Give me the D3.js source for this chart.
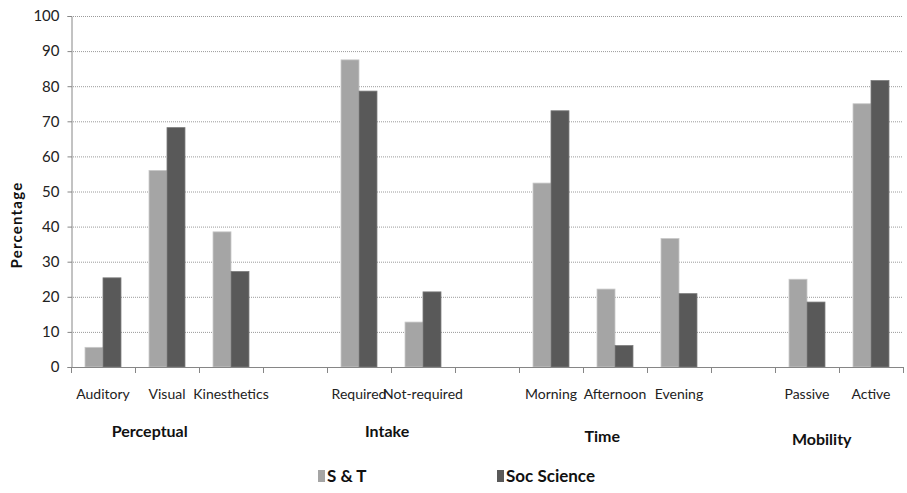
<!DOCTYPE html>
<html>
<head>
<meta charset="utf-8">
<script src="https://cdn.jsdelivr.net/npm/d3@7"></script>
<style>
  html, body { margin: 0; padding: 0; background: #fff; }
  svg { display: block; }
  text { font-family: "Lato", "Liberation Sans", Arial, sans-serif; }
</style>
</head>
<body>
<svg id="chart" width="907" height="493"></svg>
<script>
// Learning-style preferences by stream (percent); null marks a spacer slot between groups
const categories = ["Auditory", "Visual", "Kinesthetics", null, "Required", "Not-required", null,
                    "Morning", "Afternoon", "Evening", null, "Passive", "Active"];
const seriesNames = ["S & T", "Soc Science"];
const sAndT      = [5.6, 56, 38.5, null, 87.5, 12.8, null, 52.4, 22.2, 36.6, null, 25, 75];
const socScience = [25.4, 68.2, 27.2, null, 78.6, 21.4, null, 73, 6.1, 20.9, null, 18.5, 81.6];
const yTicks = [0, 10, 20, 30, 40, 50, 60, 70, 80, 90, 100];
const groupNames = ["Perceptual", "Intake", "Time", "Mobility"];

const colors = ["#a5a5a5", "#595959"];
const strokes = ["#c8c8c8", "#7a7a7a"];

const svg = d3.select("#chart");
const plotLeft = 71, plotRight = 903, plotTop = 16, plotBottom = 367;

const x = d3.scaleBand().domain(d3.range(categories.length)).range([plotLeft, plotRight]).paddingInner(0).paddingOuter(0);
const xInner = d3.scaleBand().domain(d3.range(seriesNames.length)).range([0, x.bandwidth()]).paddingInner(0).paddingOuter(0.78);
const y = d3.scaleLinear().domain([0, 100]).range([plotBottom, plotTop]);

// dotted gridlines
svg.append("g").selectAll("line")
  .data(yTicks.filter(d => d > 0))
  .join("line")
  .attr("x1", plotLeft).attr("x2", plotRight)
  .attr("y1", d => y(d) + 0.5).attr("y2", d => y(d) + 0.5)
  .attr("stroke", "#9a9a9a").attr("stroke-width", 1)
  .attr("stroke-dasharray", "1,1");

// y axis
const yAxis = svg.append("g")
  .attr("transform", `translate(${plotLeft + 0.5},0)`)
  .call(d3.axisLeft(y).tickValues(yTicks).tickSize(4).tickPadding(8).tickFormat(d3.format("d")));
yAxis.select(".domain").attr("stroke", "#868686");
yAxis.selectAll(".tick line").attr("stroke", "#868686");
yAxis.selectAll("text").attr("font-size", 15).attr("fill", "#222");

// bars
const series = [sAndT, socScience];
series.forEach((vals, si) => {
  svg.append("g").selectAll("rect")
    .data(vals.map((v, i) => ({ i, v })).filter(d => d.v !== null))
    .join("rect")
    .attr("x", d => x(d.i) + xInner(si))
    .attr("y", d => y(d.v))
    .attr("width", xInner.bandwidth())
    .attr("height", d => y(0) - y(d.v))
    .attr("fill", colors[si])
    .attr("stroke", strokes[si])
    .attr("stroke-width", 0.8);
});

// x axis with boundary ticks
const xAxisG = svg.append("g");
xAxisG.append("line")
  .attr("x1", plotLeft).attr("x2", plotRight)
  .attr("y1", plotBottom + 0.5).attr("y2", plotBottom + 0.5)
  .attr("stroke", "#868686");
const bounds = d3.range(categories.length + 1).map(i => plotLeft + i * x.step());
xAxisG.selectAll("line.tk").data(bounds).join("line")
  .attr("class", "tk")
  .attr("x1", d => d + 0.5).attr("x2", d => d + 0.5)
  .attr("y1", plotBottom).attr("y2", plotBottom + 6)
  .attr("stroke", "#868686");

// category labels
svg.append("g").selectAll("text")
  .data(categories.map((c, i) => ({ c, i })).filter(d => d.c !== null))
  .join("text")
  .attr("x", d => x(d.i) + x.bandwidth() / 2)
  .attr("y", 399)
  .attr("text-anchor", "middle")
  .attr("font-size", 14)
  .attr("fill", "#222")
  .text(d => d.c);

// group labels
const groupPos = [[1.23, 437], [4.94, 437], [8.3, 442], [11.73, 445]];
svg.append("g").selectAll("text")
  .data(groupNames.map((g, i) => ({ g, i })))
  .join("text")
  .attr("x", d => plotLeft + groupPos[d.i][0] * x.step())
  .attr("y", d => groupPos[d.i][1])
  .attr("text-anchor", "middle")
  .attr("font-size", 16)
  .attr("font-weight", "bold")
  .attr("fill", "#111")
  .text(d => d.g);

// y axis title
svg.append("text")
  .attr("transform", "translate(22,225) rotate(-90)")
  .attr("text-anchor", "middle")
  .attr("font-size", 15)
  .attr("letter-spacing", 1.2)
  .attr("font-weight", "bold")
  .attr("fill", "#111")
  .text("Percentage");

// legend
const legendX = [318, 497];
const legend = svg.append("g");
seriesNames.forEach((n, i) => {
  legend.append("rect")
    .attr("x", legendX[i]).attr("y", 470)
    .attr("width", 7).attr("height", 12)
    .attr("fill", colors[i]);
  legend.append("text")
    .attr("x", legendX[i] + 9).attr("y", 482)
    .attr("font-size", 17)
    .attr("font-weight", "bold")
    .attr("fill", "#111")
    .text(n);
});
</script>
</body>
</html>
